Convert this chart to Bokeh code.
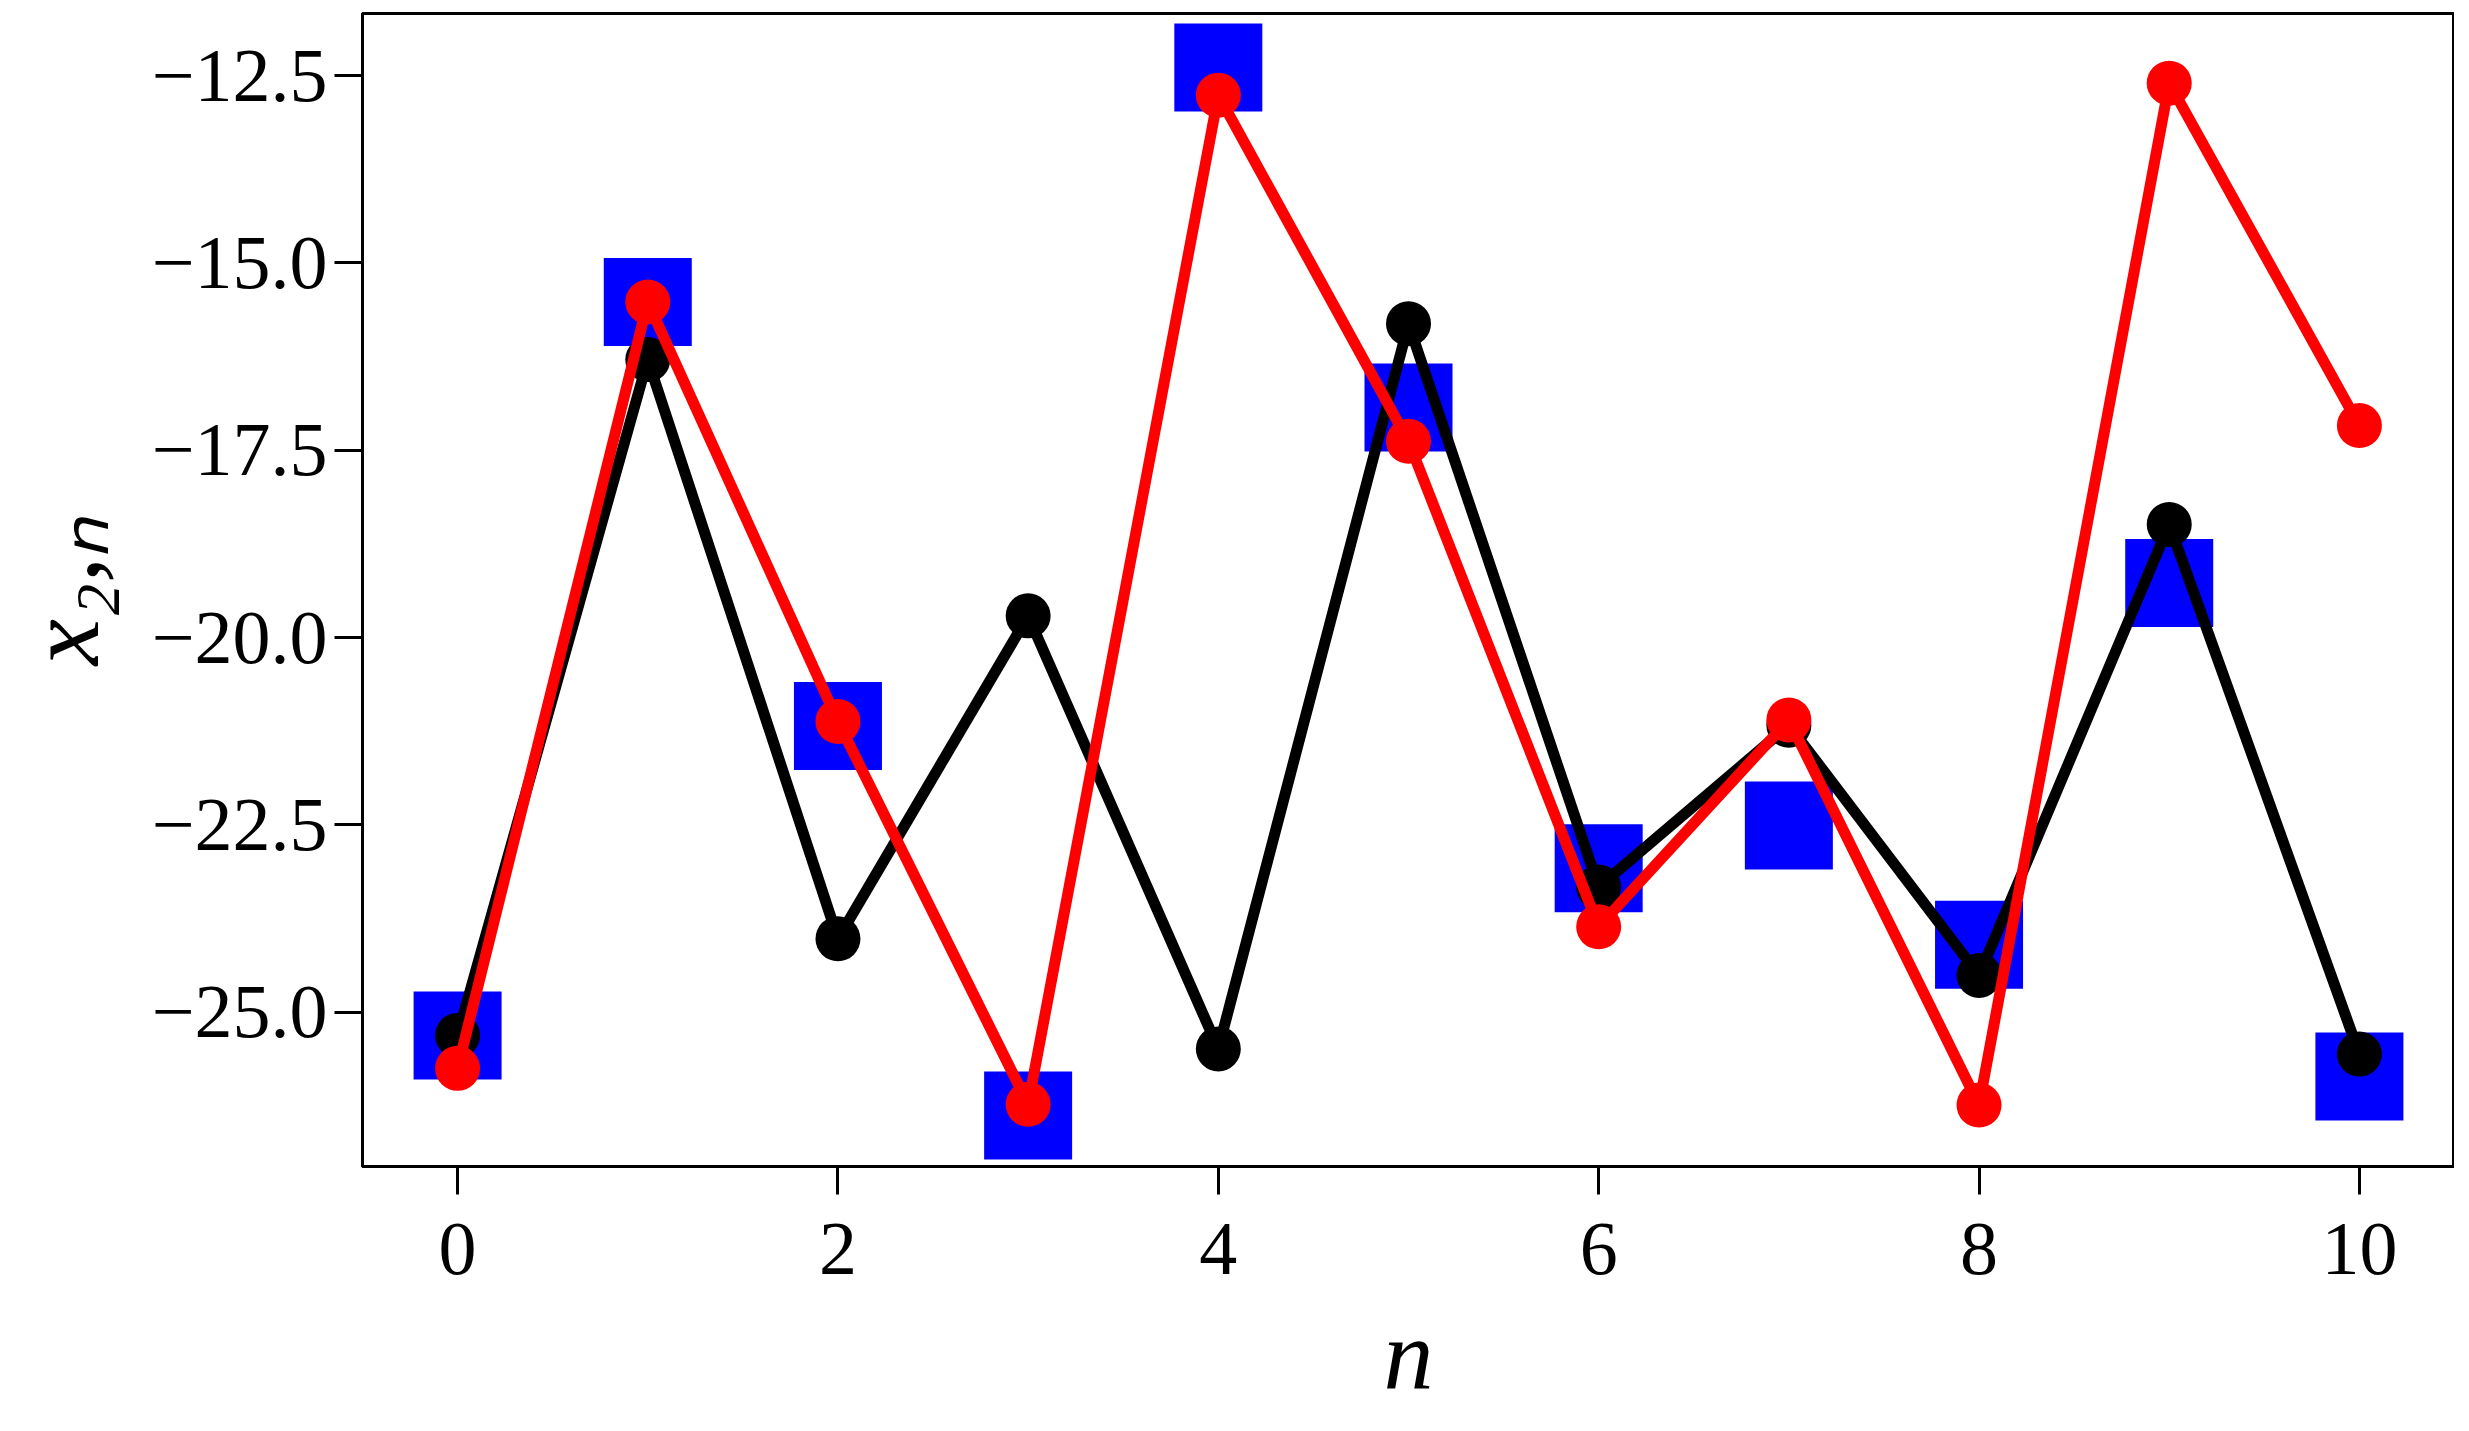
from bokeh.plotting import figure
from bokeh.models import Range1d, FixedTicker, ColumnDataSource
from bokeh.embed import file_html
from bokeh.resources import INLINE

# ---- data ----
n_vals = [0, 1, 2, 3, 4, 5, 6, 7, 8, 9, 10]
blue_sq = [-25.31, -15.52, -21.18, -26.38, -12.39, -16.93, -23.08, -22.51, -24.10, -19.27, -25.86]
black_c = [-25.31, -16.29, -24.02, -19.71, -25.49, -15.81, -23.33, -21.17, -24.51, -18.49, -25.56]
red_c = [-25.75, -15.52, -21.12, -26.23, -12.76, -17.38, -23.86, -21.10, -26.24, -12.60, -17.17]

x_ticks = [0, 2, 4, 6, 8, 10]
y_ticks = [-25.0, -22.5, -20.0, -17.5, -15.0, -12.5]
y_tick_labels = ["\u221225.0", "\u221222.5", "\u221220.0", "\u221217.5", "\u221215.0", "\u221212.5"]
x_label = "n"
y_label = "x\u2082,\u2099"

FONT = "Liberation Serif"

p = figure(width=2454, height=1415, output_backend="svg", toolbar_location=None,
           x_range=Range1d(-0.5, 10.5), y_range=Range1d(-27.06, -11.67),
           min_border_left=362, min_border_right=0, min_border_top=13, min_border_bottom=249)
p.background_fill_color = "white"
p.border_fill_color = "white"
p.grid.visible = False
p.outline_line_color = "black"
p.outline_line_width = 3

for ax in (p.xaxis[0], p.yaxis[0]):
    ax.axis_line_width = 3
    ax.axis_line_color = "black"
    ax.major_tick_line_width = 3
    ax.major_tick_out = 28
    ax.major_tick_in = 0
    ax.minor_tick_out = 0
    ax.minor_tick_in = 0
    ax.major_label_text_font = FONT
    ax.major_label_text_font_size = "76px"
    ax.major_label_text_color = "black"
    ax.axis_label_text_font = FONT
    ax.axis_label_text_font_style = "italic"
    ax.axis_label_text_color = "black"

p.xaxis.axis_label_text_font_size = "100px"
p.yaxis.axis_label_text_font_size = "104px"

p.xaxis.ticker = FixedTicker(ticks=x_ticks)
p.yaxis.ticker = FixedTicker(ticks=y_ticks)
p.yaxis.major_label_overrides = {t: s for t, s in zip(y_ticks, y_tick_labels)}
p.xaxis.major_label_standoff = 29
p.yaxis.major_label_standoff = 7

p.xaxis.axis_label = x_label
p.yaxis.axis_label = y_label
p.xaxis.axis_label_standoff = 22
p.yaxis.axis_label_standoff = 29

src_b = ColumnDataSource(dict(x=n_vals, y=blue_sq))
src_k = ColumnDataSource(dict(x=n_vals, y=black_c))
src_r = ColumnDataSource(dict(x=n_vals, y=red_c))

p.scatter("x", "y", source=src_b, marker="square", size=88, fill_color="#0000ff", line_color=None)

p.line("x", "y", source=src_k, line_color="black", line_width=11, line_join="round")
p.scatter("x", "y", source=src_k, marker="circle", size=45, fill_color="black", line_color=None)

p.line("x", "y", source=src_r, line_color="#ff0000", line_width=11, line_join="round")
p.scatter("x", "y", source=src_r, marker="circle", size=45, fill_color="#ff0000", line_color=None)

open("out.html", "w").write(file_html(p, INLINE))
